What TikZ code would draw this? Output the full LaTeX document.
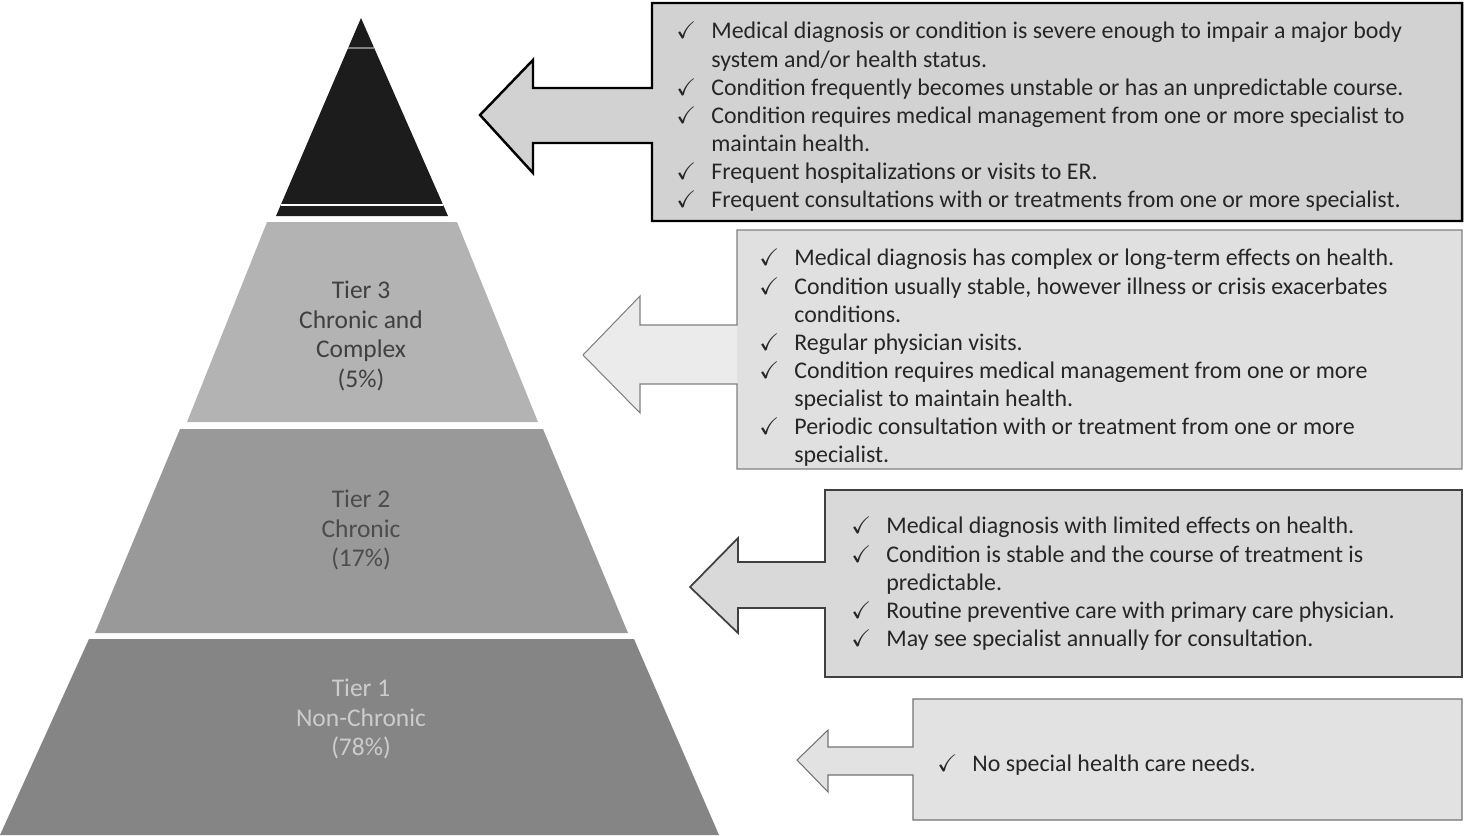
\documentclass[tikz,border=0pt]{standalone}
\usepackage{amssymb}
\usepackage{fontspec}
\setmainfont{Carlito}
\definecolor{tiertop}{HTML}{1C1C1C}
\definecolor{tierthree}{HTML}{B3B3B3}
\definecolor{tiertwo}{HTML}{999999}
\definecolor{tierone}{HTML}{858585}
\definecolor{boxone}{HTML}{D2D2D2}
\definecolor{boxtwo}{HTML}{E0E0E0}
\definecolor{boxthree}{HTML}{D9D9D9}
\definecolor{boxfour}{HTML}{E2E2E2}
\newcommand{\ck}{\makebox[0.7cm][l]{$\checkmark$}}
\newcommand{\nock}{\hspace*{0.7cm}}
\begin{document}
\begin{tikzpicture}[x=0.02cm,y=-0.02cm,
    tierlabel/.style={align=center,font=\fontsize{14.5}{17}\selectfont},
    crit/.style={align=left,anchor=north west,inner sep=0pt,text=black!85,
        font=\fontsize{13.6}{16}\selectfont}]
    \useasboundingbox (0,0) rectangle (1466,835);
    % pyramid
    \fill [tiertop] (361,18) -- (448,216) -- (276,216) -- cycle;
    \draw [white!45!tiertop, line width=0.6pt] (348,48) -- (374,48);
    \draw [white, line width=0.8pt] (281,205) -- (443,205);
    \fill [tierthree] (267,222) -- (457,222) -- (538,422) -- (187,422) -- cycle;
    \fill [tiertwo] (180,429) -- (543,429) -- (628,633) -- (95,633) -- cycle;
    \fill [tierone] (89,639) -- (634,639) -- (719,835) -- (0,835) -- cycle;
    \node [tierlabel, text=black!75] (tier3) at (361,336) {Tier 3\\Chronic and\\Complex\\(5\%)};
    \node [tierlabel, text=black!70] (tier2) at (361,530) {Tier 2\\Chronic\\(17\%)};
    \node [tierlabel, text=white!80!black] (tier1) at (361,719) {Tier 1\\Non-Chronic\\(78\%)};
    % callouts
    \filldraw [fill=boxone, draw=black, line width=1.4pt]
        (652,3) -- (1462,3) -- (1462,221) -- (652,221) -- (652,143) -- (533,143)
        -- (533,173) -- (480,115) -- (533,60) -- (533,88) -- (652,88) -- cycle;
    \fill [boxtwo] (737,230) rectangle (1462,469);
    \fill [white!92!black] (737,384) -- (640,384) -- (640,413) -- (583,355)
        -- (640,296) -- (640,325) -- (737,325) -- cycle;
    \draw [black!50, line width=0.6pt]
        (737,230) -- (1462,230) -- (1462,469) -- (737,469) -- (737,384) -- (640,384)
        -- (640,413) -- (583,355) -- (640,296) -- (640,325) -- (737,325) -- cycle;
    \filldraw [fill=boxthree, draw=black!75, line width=1pt]
        (825,490) -- (1462,490) -- (1462,677) -- (825,677) -- (825,608) -- (738,608)
        -- (738,633) -- (690,587) -- (738,538) -- (738,562) -- (825,562) -- cycle;
    \filldraw [fill=boxfour, draw=black!55, line width=0.6pt]
        (913,699) -- (1462,699) -- (1462,820) -- (913,820) -- (913,775) -- (828,775)
        -- (828,792) -- (797,760) -- (828,730) -- (828,747) -- (913,747) -- cycle;
    % criteria
    \node [crit] (crit4) at (676,22) {\ck Medical diagnosis or condition is severe enough to impair a major body\\
        \nock system and/or health status.\\
        \ck Condition frequently becomes unstable or has an unpredictable course.\\
        \ck Condition requires medical management from one or more specialist to\\
        \nock maintain health.\\
        \ck Frequent hospitalizations or visits to ER.\\
        \ck Frequent consultations with or treatments from one or more specialist.};
    \node [crit] (crit3) at (759,249) {\ck Medical diagnosis has complex or long-term effects on health.\\
        \ck Condition usually stable, however illness or crisis exacerbates\\
        \nock conditions.\\
        \ck Regular physician visits.\\
        \ck Condition requires medical management from one or more\\
        \nock specialist to maintain health.\\
        \ck Periodic consultation with or treatment from one or more\\
        \nock specialist.};
    \node [crit] (crit2) at (851,517) {\ck Medical diagnosis with limited effects on health.\\
        \ck Condition is stable and the course of treatment is\\
        \nock predictable.\\
        \ck Routine preventive care with primary care physician.\\
        \ck May see specialist annually for consultation.};
    \node [crit] (crit1) at (937,755) {\ck No special health care needs.};
\end{tikzpicture}
\end{document}
